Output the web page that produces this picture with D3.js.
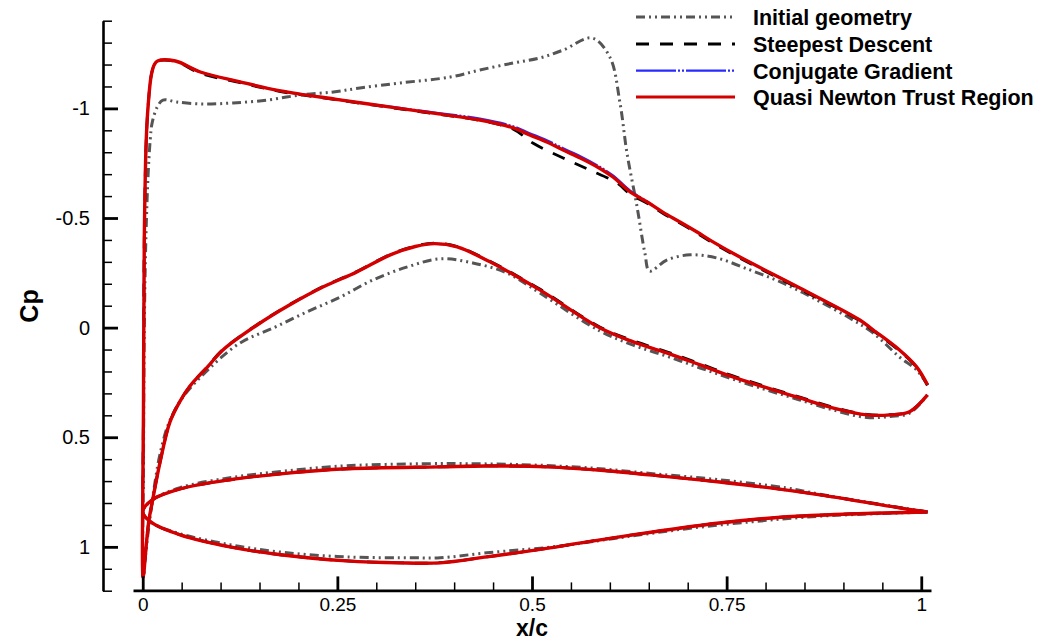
<!DOCTYPE html>
<html><head><meta charset="utf-8">
<script src="https://cdn.jsdelivr.net/npm/d3@7"></script>
<style>
body{margin:0;background:#fff}
svg{display:block}
text{font-family:"Liberation Sans",Arial,Helvetica,sans-serif}
</style>
</head><body>
<svg id="chart" width="1057" height="641"></svg>
<script>
// ---------- tick labels ----------
const xTicks = [0, 0.25, 0.5, 0.75, 1];
const xTickLabels = ["0", "0.25", "0.5", "0.75", "1"];
const xMinorTicks = [0.05,0.1,0.15,0.2,0.3,0.35,0.4,0.45,0.55,0.6,0.65,0.7,0.8,0.85,0.9,0.95];
const yTicks = [-1, -0.5, 0, 0.5, 1];
const yTickLabels = ["-1", "-0.5", "0", "0.5", "1"];
const yMinorTicks = [-1.4,-1.3,-1.2,-1.1,-0.9,-0.8,-0.7,-0.6,-0.4,-0.3,-0.2,-0.1,0.1,0.2,0.3,0.4,0.6,0.7,0.8,0.9,1.1,1.2];

// ---------- series names ----------
const seriesNames = ["Initial geometry", "Steepest Descent", "Conjugate Gradient", "Quasi Newton Trust Region"];

// ---------- Initial geometry (x/c, Cp) ----------
const initialWing = [
 [1.008,0.261],[0.994,0.193],[0.972,0.134],[0.938,0.024],[0.908,-0.044],[0.866,-0.126],[0.822,-0.204],
 [0.780,-0.263],[0.737,-0.318],[0.703,-0.332],[0.673,-0.308],[0.651,-0.258],[0.645,-0.340],[0.635,-0.550],
 [0.622,-0.796],[0.613,-1.025],[0.600,-1.234],[0.577,-1.321],[0.540,-1.266],[0.510,-1.230],[0.476,-1.207],
 [0.433,-1.175],[0.395,-1.143],[0.331,-1.116],[0.279,-1.093],[0.245,-1.075],[0.202,-1.061],[0.160,-1.038],
 [0.116,-1.025],[0.078,-1.020],[0.044,-1.029],[0.026,-1.038],[0.0186,-1.006],[0.012,-0.933],[0.0096,-0.856],
 [0.007,-0.705],[0.004,-0.40],[0.002,0.01],[0.001,0.60],[0.0005,1.14],
 [0.005,0.99],[0.010,0.85],[0.016,0.70],[0.022,0.58],[0.033,0.44],[0.050,0.325],[0.083,0.195],[0.125,0.070],
 [0.168,0.001],[0.211,-0.072],[0.254,-0.140],[0.296,-0.218],[0.340,-0.277],[0.382,-0.314],[0.424,-0.295],
 [0.468,-0.249],[0.510,-0.158],[0.587,0.015],[0.630,0.080],[0.673,0.130],[0.716,0.184],[0.758,0.235],
 [0.802,0.285],[0.844,0.330],[0.886,0.375],[0.930,0.410],[0.960,0.405],[0.985,0.390],[1.008,0.307]
];
const initialLens = [
 [1.008,0.841],[0.972,0.820],[0.870,0.760],[0.827,0.731],[0.741,0.694],[0.655,0.666],[0.571,0.639],
 [0.487,0.625],[0.400,0.620],[0.382,0.620],[0.262,0.630],[0.180,0.655],[0.112,0.685],[0.048,0.730],
 [0.0122,0.786],[0.0,0.841],
 [0.0122,0.891],[0.048,0.940],[0.112,0.990],[0.180,1.025],[0.262,1.046],[0.350,1.050],[0.382,1.050],
 [0.442,1.027],[0.527,1.000],[0.613,0.958],[0.699,0.917],[0.784,0.885],[0.870,0.860],[1.008,0.841]
];

// ---------- Steepest Descent ----------
const steepestWing = [
 [1.008,0.263],[0.994,0.182],[0.972,0.106],[0.938,0.014],[0.921,-0.031],[0.844,-0.176],[0.767,-0.317],
 [0.733,-0.385],[0.712,-0.431],[0.690,-0.477],[0.668,-0.522],[0.648,-0.567],[0.626,-0.610],[0.609,-0.660],
 [0.574,-0.719],[0.540,-0.774],[0.501,-0.842],[0.476,-0.905],[0.433,-0.945],[0.380,-0.973],[0.330,-0.998],
 [0.251,-1.038],[0.177,-1.077],[0.125,-1.117],[0.074,-1.160],[0.042,-1.214],[0.019,-1.216],[0.015,-1.200],
 [0.011,-1.152],[0.007,-1.015],[0.0045,-0.855],[0.002,-0.40],[0.001,0.33],[0.0005,1.14],
 [0.0045,0.993],[0.008,0.877],[0.012,0.80],[0.022,0.618],[0.035,0.430],[0.048,0.335],[0.061,0.265],
 [0.083,0.178],[0.103,0.100],[0.147,-0.014],[0.189,-0.106],[0.232,-0.188],[0.275,-0.256],[0.318,-0.334],
 [0.350,-0.372],[0.375,-0.385],[0.404,-0.370],[0.446,-0.303],[0.510,-0.176],[0.587,-0.003],[0.630,0.060],
 [0.673,0.110],[0.716,0.165],[0.758,0.220],[0.802,0.271],[0.844,0.317],[0.886,0.362],[0.930,0.396],
 [0.960,0.397],[0.985,0.383],[1.008,0.307]
];
const steepestLens = [
 [1.008,0.841],[0.972,0.822],[0.870,0.763],[0.806,0.731],[0.741,0.704],[0.677,0.681],[0.596,0.653],
 [0.519,0.635],[0.442,0.631],[0.382,0.635],[0.262,0.644],[0.177,0.667],[0.112,0.694],[0.048,0.736],
 [0.0122,0.786],[0.0,0.841],
 [0.0122,0.891],[0.048,0.945],[0.112,1.000],[0.177,1.036],[0.262,1.064],[0.330,1.073],[0.382,1.072],
 [0.442,1.046],[0.506,1.014],[0.571,0.977],[0.655,0.932],[0.741,0.891],[0.827,0.863],[0.908,0.850],[1.008,0.841]
];

// ---------- Conjugate Gradient ----------
const conjugateWing = [
 [1.008,0.261],[0.994,0.179],[0.972,0.102],[0.938,0.010],[0.921,-0.035],[0.844,-0.181],[0.767,-0.322],
 [0.733,-0.390],[0.712,-0.436],[0.690,-0.482],[0.668,-0.527],[0.648,-0.575],[0.626,-0.625],[0.604,-0.694],
 [0.584,-0.740],[0.562,-0.782],[0.540,-0.818],[0.519,-0.855],[0.497,-0.887],[0.476,-0.918],[0.433,-0.953],
 [0.380,-0.979],[0.330,-1.002],[0.251,-1.040],[0.177,-1.080],[0.125,-1.121],[0.074,-1.166],[0.042,-1.216],
 [0.019,-1.216],[0.015,-1.200],[0.011,-1.152],[0.007,-1.015],[0.0045,-0.855],[0.002,-0.40],[0.001,0.33],[0.0005,1.14],
 [0.0045,0.993],[0.008,0.877],[0.012,0.80],[0.022,0.618],[0.035,0.430],[0.048,0.335],[0.061,0.265],
 [0.083,0.180],[0.103,0.102],[0.147,-0.012],[0.189,-0.104],[0.232,-0.186],[0.275,-0.254],[0.318,-0.332],
 [0.350,-0.370],[0.375,-0.383],[0.404,-0.368],[0.446,-0.300],[0.510,-0.172],[0.587,0.001],[0.630,0.065],
 [0.673,0.115],[0.716,0.170],[0.758,0.225],[0.802,0.275],[0.844,0.321],[0.886,0.366],[0.930,0.398],
 [0.960,0.398],[0.985,0.384],[1.008,0.307]
];
const conjugateLens = [
 [1.008,0.841],[0.972,0.822],[0.870,0.763],[0.806,0.731],[0.741,0.704],[0.677,0.681],[0.596,0.653],
 [0.519,0.635],[0.442,0.631],[0.382,0.635],[0.262,0.644],[0.177,0.667],[0.112,0.694],[0.048,0.736],
 [0.0122,0.786],[0.0,0.841],
 [0.0122,0.891],[0.048,0.945],[0.112,1.000],[0.177,1.036],[0.262,1.064],[0.330,1.073],[0.382,1.073],
 [0.442,1.046],[0.506,1.014],[0.571,0.977],[0.655,0.932],[0.741,0.891],[0.827,0.863],[0.908,0.850],[1.008,0.841]
];

// ---------- Quasi Newton Trust Region ----------
const quasiNewtonWing = [
 [1.008,0.261],[0.994,0.179],[0.972,0.102],[0.938,0.010],[0.921,-0.035],[0.844,-0.181],[0.767,-0.322],
 [0.733,-0.390],[0.712,-0.436],[0.690,-0.482],[0.668,-0.527],[0.648,-0.573],[0.626,-0.619],[0.604,-0.687],
 [0.584,-0.733],[0.562,-0.774],[0.540,-0.810],[0.519,-0.847],[0.497,-0.879],[0.476,-0.911],[0.433,-0.947],
 [0.380,-0.975],[0.330,-1.000],[0.251,-1.040],[0.177,-1.080],[0.125,-1.121],[0.074,-1.166],[0.042,-1.216],
 [0.019,-1.216],[0.015,-1.200],[0.011,-1.152],[0.007,-1.015],[0.0045,-0.855],[0.002,-0.40],[0.001,0.33],[0.0005,1.14],
 [0.0045,0.993],[0.008,0.877],[0.012,0.80],[0.022,0.618],[0.035,0.430],[0.048,0.335],[0.061,0.265],
 [0.083,0.180],[0.103,0.102],[0.147,-0.012],[0.189,-0.104],[0.232,-0.186],[0.275,-0.254],[0.318,-0.332],
 [0.350,-0.370],[0.375,-0.383],[0.404,-0.368],[0.446,-0.300],[0.510,-0.172],[0.587,0.001],[0.630,0.065],
 [0.673,0.115],[0.716,0.170],[0.758,0.225],[0.802,0.275],[0.844,0.321],[0.886,0.366],[0.930,0.398],
 [0.960,0.398],[0.985,0.384],[1.008,0.307]
];
const quasiNewtonLens = [
 [1.008,0.841],[0.972,0.822],[0.870,0.763],[0.806,0.731],[0.741,0.704],[0.677,0.681],[0.596,0.653],
 [0.519,0.635],[0.442,0.631],[0.382,0.635],[0.262,0.644],[0.177,0.667],[0.112,0.694],[0.048,0.736],
 [0.0122,0.786],[0.0,0.841],
 [0.0122,0.891],[0.048,0.945],[0.112,1.000],[0.177,1.036],[0.262,1.064],[0.330,1.073],[0.382,1.073],
 [0.442,1.046],[0.506,1.014],[0.571,0.977],[0.655,0.932],[0.741,0.891],[0.827,0.863],[0.908,0.850],[1.008,0.841]
];

// ---------- styles ----------
const styles = [
  {color:"#555555", width:3,   dash:"9,4,2,4,2,4"},
  {color:"#000000", width:2.8, dash:"13,11"},
  {color:"#2a2aff", width:2.2, dash:"40,2,2,2,2,2"},
  {color:"#d40000", width:3.4, dash:null}
];
const seriesData = [
  [initialWing, initialLens],
  [steepestWing, steepestLens],
  [conjugateWing, conjugateLens],
  [quasiNewtonWing, quasiNewtonLens]
];

const svg = d3.select("#chart");
const x = d3.scaleLinear().domain([-0.0125, 1.0125]).range([133, 931]);
const y = d3.scaleLinear().domain([-1.4, 1.2]).range([20.7, 590.7]);
const axisX = 103, axisY = 590.4;

// curves
const line = d3.line().x(d => x(d[0])).y(d => y(d[1])).curve(d3.curveCatmullRom.alpha(0.5));
const plot = svg.append("g");
seriesData.forEach((parts, i) => {
  parts.forEach(p => {
    plot.append("path").attr("d", line(p))
      .attr("fill", "none").attr("stroke", styles[i].color)
      .attr("stroke-width", styles[i].width)
      .attr("stroke-dasharray", styles[i].dash)
      .attr("stroke-linejoin", "round");
  });
});

// axes
function styleAxis(g, w, fs) {
  g.selectAll("path.domain").attr("stroke", "#000").attr("stroke-width", 2.6);
  g.selectAll(".tick line").attr("stroke", "#000").attr("stroke-width", w);
  g.selectAll(".tick text").attr("fill", "#000").attr("font-size", fs).attr("font-family", "'Liberation Sans',Arial,sans-serif");
}
const gyMinor = svg.append("g").attr("transform", `translate(${axisX},0)`)
  .call(d3.axisLeft(y).tickValues(yMinorTicks).tickSizeInner(-9).tickSizeOuter(0).tickFormat(""));
gyMinor.select("path.domain").remove();
styleAxis(gyMinor, 1.5, 20);
const gy = svg.append("g").attr("transform", `translate(${axisX},0)`)
  .call(d3.axisLeft(y).tickValues(yTicks).tickSizeInner(-15).tickSizeOuter(0).tickPadding(13)
        .tickFormat((d, i) => yTickLabels[i]));
styleAxis(gy, 2.8, 20);

const gxMinor = svg.append("g").attr("transform", `translate(0,${axisY})`)
  .call(d3.axisBottom(x).tickValues(xMinorTicks).tickSizeInner(-8).tickSizeOuter(0).tickFormat(""));
gxMinor.select("path.domain").remove();
styleAxis(gxMinor, 1.5, 19);
const gx = svg.append("g").attr("transform", `translate(0,${axisY})`)
  .call(d3.axisBottom(x).tickValues(xTicks).tickSizeInner(-14).tickSizeOuter(0).tickPadding(7)
        .tickFormat((d, i) => xTickLabels[i]));
styleAxis(gx, 2.8, 19);

// axis titles
svg.append("text").attr("x", 532).attr("y", 635.5).attr("text-anchor", "middle")
  .attr("font-weight", "bold").attr("font-size", 23).text("x/c");
svg.append("text").attr("transform", "translate(38,306) rotate(-90)").attr("text-anchor", "middle")
  .attr("font-weight", "bold").attr("font-size", 25).text("Cp");

// legend
const legendRows = [17, 44, 70.7, 97];
const lg = svg.append("g");
seriesNames.forEach((name, i) => {
  lg.append("line").attr("x1", 636).attr("x2", 735).attr("y1", legendRows[i]).attr("y2", legendRows[i])
    .attr("stroke", styles[i].color).attr("stroke-width", Math.min(styles[i].width, 3))
    .attr("stroke-dasharray", styles[i].dash);
  lg.append("text").attr("x", 753).attr("y", legendRows[i] + 7.8)
    .attr("font-weight", "bold").attr("font-size", 21.5).attr("fill", "#000").text(name);
});
</script>
</body></html>
